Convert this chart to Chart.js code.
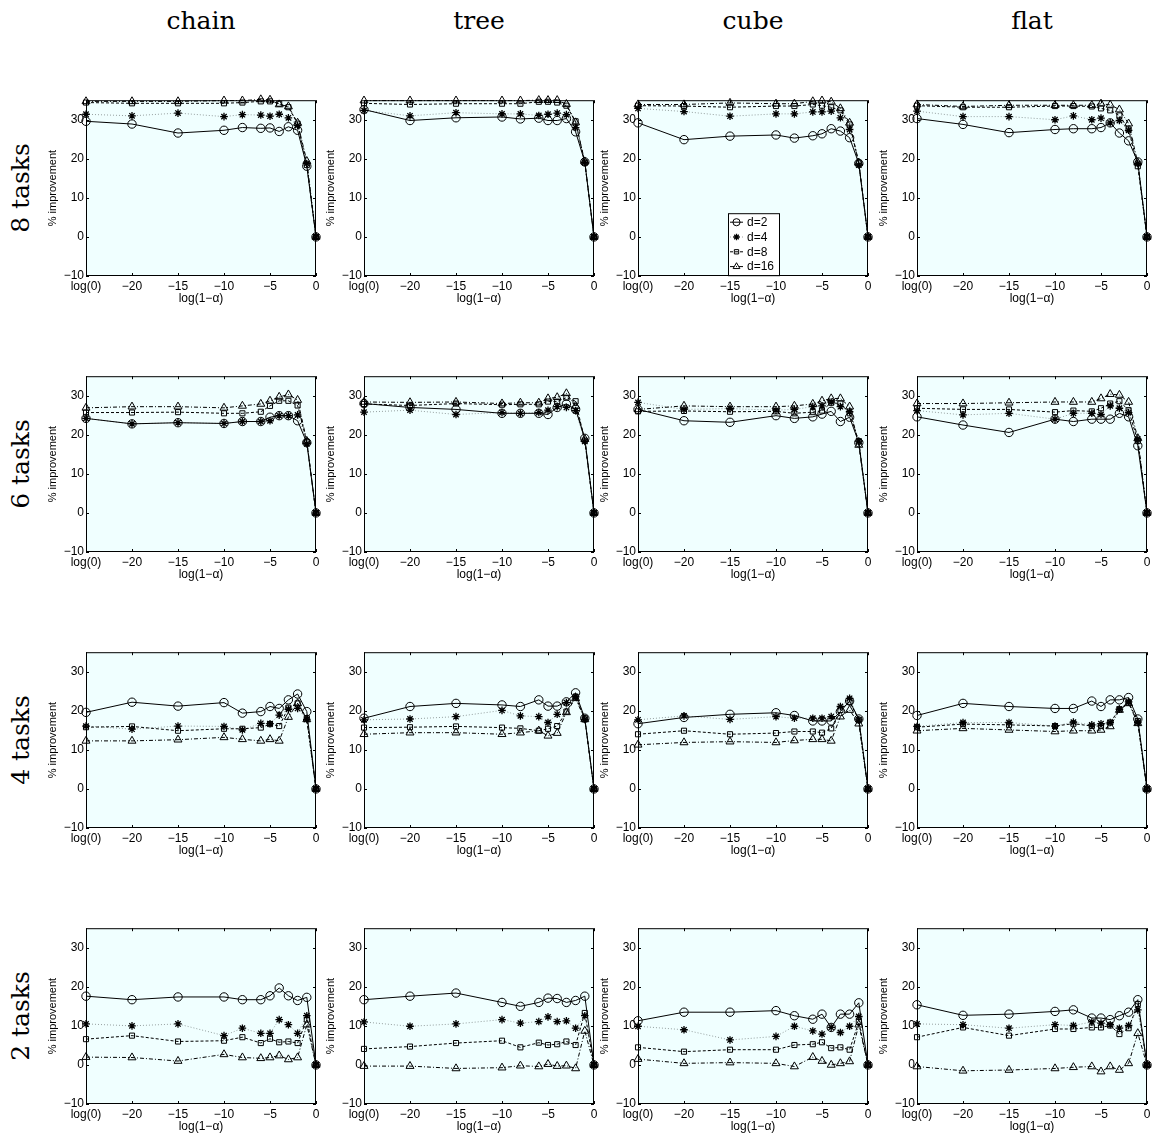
<!DOCTYPE html>
<html>
<head>
<meta charset="utf-8">
<script src="https://cdn.jsdelivr.net/npm/chart.js@4.4.1/dist/chart.umd.min.js"></script>
<style>
  body { margin: 0; background: #fff; width: 1152px; height: 1135px; position: relative; overflow: hidden; }
  .coltitle { position: absolute; top: 6px; width: 230px; line-height: 30px; text-align: center; font: 25px "DejaVu Serif", serif; color: #000; }
  .rowtitle { position: absolute; width: 200px; height: 30px; line-height: 30px; text-align: center; font: 25px "DejaVu Serif", serif; color: #000; transform: rotate(-90deg); }
  canvas { position: absolute; }
</style>
</head>
<body>
<script>
// x positions: log(0) is drawn at -25
const xValues = [-25, -20, -15, -10, -8, -6, -5, -4, -3, -2, -1, 0];
const xTicks = [-25, -20, -15, -10, -5, 0];
const yTicks = [-10, 0, 10, 20, 30];
const topologies = ['chain', 'tree', 'cube', 'flat'];
const taskCounts = [8, 6, 4, 2];
const seriesLabels = ['d=2', 'd=4', 'd=8', 'd=16'];

// each panel: [d=2, d=4, d=8, d=16]
const chain8 = [
  [29.6, 28.9, 26.6, 27.3, 28.0, 27.8, 27.9, 27.0, 28.2, 27.3, 18.1, 0],
  [31.4, 31.0, 31.7, 30.8, 31.3, 31.2, 30.9, 31.4, 30.5, 28.5, 18.8, 0],
  [34.4, 34.2, 34.2, 34.2, 34.4, 34.7, 34.7, 34.1, 33.2, 29.0, 18.4, 0],
  [34.7, 34.7, 34.7, 34.9, 34.9, 35.2, 35.1, 33.9, 33.4, 29.2, 19.4, 0]
];
const tree8 = [
  [32.6, 29.8, 30.5, 30.7, 30.2, 30.4, 29.8, 29.8, 30.3, 26.9, 19.2, 0],
  [32.4, 31.0, 31.8, 31.5, 31.5, 31.1, 31.4, 31.7, 31.3, 28.0, 19.1, 0],
  [34.2, 33.9, 34.1, 34.1, 34.1, 34.6, 34.6, 34.4, 33.6, 29.6, 19.0, 0],
  [34.9, 34.9, 34.9, 34.9, 34.9, 35.0, 35.0, 35.0, 34.0, 29.3, 19.3, 0]
];
const cube8 = [
  [29.2, 24.9, 25.8, 26.1, 25.3, 25.9, 26.4, 27.7, 27.1, 25.4, 18.8, 0],
  [32.9, 32.1, 30.9, 31.5, 31.5, 32.0, 32.0, 32.2, 30.5, 27.5, 18.4, 0],
  [33.6, 33.5, 33.2, 33.5, 33.5, 33.9, 33.6, 33.2, 32.4, 28.8, 19.0, 0],
  [33.9, 33.9, 34.3, 34.1, 34.1, 34.7, 34.9, 34.6, 32.9, 29.2, 19.0, 0]
];
const flat8 = [
  [30.3, 28.8, 26.7, 27.5, 27.7, 27.7, 28.0, 29.2, 26.6, 24.6, 19.2, 0],
  [32.2, 30.8, 30.8, 30.0, 31.0, 30.0, 30.4, 29.2, 29.8, 27.3, 18.8, 0],
  [33.6, 33.2, 33.2, 33.5, 33.5, 33.4, 32.9, 32.4, 31.1, 27.5, 18.1, 0],
  [33.9, 33.4, 33.7, 33.7, 33.7, 33.7, 34.1, 33.8, 32.6, 29.0, 19.0, 0]
];
const chain6 = [
  [24.2, 22.8, 23.1, 22.9, 23.4, 23.4, 24.5, 24.9, 24.9, 23.6, 18.0, 0],
  [24.2, 22.8, 23.1, 22.9, 23.4, 23.4, 23.6, 24.9, 24.9, 25.1, 17.7, 0],
  [25.7, 25.7, 25.8, 25.5, 25.5, 25.9, 27.4, 28.7, 28.7, 27.5, 18.2, 0],
  [26.9, 27.2, 27.2, 26.9, 27.4, 27.9, 28.7, 29.7, 30.3, 28.9, 18.4, 0]
];
const tree6 = [
  [28.0, 27.0, 26.5, 25.5, 25.5, 25.5, 25.2, 27.0, 27.9, 26.5, 19.1, 0],
  [25.8, 26.3, 25.2, 25.7, 25.5, 25.7, 26.3, 27.2, 27.0, 26.2, 18.3, 0],
  [27.9, 27.5, 28.0, 27.7, 27.8, 27.8, 28.5, 28.5, 29.5, 28.6, 18.5, 0],
  [28.4, 28.3, 28.4, 28.0, 28.2, 28.2, 29.3, 29.6, 30.6, 27.4, 18.9, 0]
];
const cube6 = [
  [26.5, 23.6, 23.2, 24.9, 24.2, 24.6, 25.3, 26.0, 23.4, 24.5, 18.0, 0],
  [28.3, 26.5, 26.7, 26.3, 26.5, 27.2, 27.4, 28.4, 27.2, 25.9, 18.4, 0],
  [26.0, 26.1, 25.9, 26.0, 25.5, 25.8, 26.2, 28.2, 28.0, 25.5, 18.3, 0],
  [26.5, 27.4, 27.2, 27.2, 27.4, 27.9, 28.7, 29.3, 29.3, 27.2, 17.4, 0]
];
const flat6 = [
  [24.6, 22.5, 20.6, 24.0, 23.4, 24.0, 24.0, 24.0, 25.5, 24.6, 17.2, 0],
  [26.2, 25.1, 25.5, 24.0, 25.5, 25.5, 25.2, 27.4, 26.8, 25.7, 18.9, 0],
  [26.8, 26.5, 26.5, 25.8, 26.2, 26.0, 26.8, 28.0, 28.6, 26.3, 18.4, 0],
  [28.0, 28.0, 28.2, 28.4, 28.4, 28.4, 29.3, 30.4, 30.2, 28.4, 19.1, 0]
];
const chain4 = [
  [19.6, 22.2, 21.2, 22.1, 19.4, 19.8, 21.1, 20.6, 22.8, 24.3, 19.8, 0],
  [16.1, 15.3, 16.1, 16.0, 15.1, 16.8, 16.7, 18.9, 20.4, 20.6, 17.8, 0],
  [15.8, 16.0, 14.9, 15.4, 15.4, 15.7, 16.6, 16.1, 20.8, 21.9, 18.1, 0],
  [12.3, 12.3, 12.6, 13.2, 12.7, 12.3, 12.7, 12.3, 18.4, 21.9, 17.8, 0]
];
const tree4 = [
  [18.1, 21.1, 21.9, 21.5, 21.1, 22.8, 21.2, 21.2, 22.3, 24.6, 18.1, 0],
  [17.7, 17.9, 18.5, 20.1, 18.7, 18.5, 17.0, 19.1, 22.1, 23.6, 17.8, 0],
  [15.7, 15.8, 16.0, 15.7, 15.5, 14.9, 15.4, 16.1, 19.8, 23.6, 18.1, 0],
  [14.0, 14.4, 14.4, 14.0, 14.4, 14.9, 13.6, 14.3, 19.6, 23.2, 17.8, 0]
];
const cube4 = [
  [16.7, 18.3, 19.1, 19.5, 18.8, 17.4, 17.4, 17.4, 19.8, 22.5, 17.9, 0],
  [17.7, 18.7, 17.8, 18.5, 18.1, 18.1, 18.1, 18.5, 21.1, 23.2, 17.7, 0],
  [14.0, 14.9, 14.0, 14.3, 14.7, 14.7, 14.4, 15.5, 20.2, 22.3, 17.7, 0],
  [11.3, 11.9, 12.1, 11.9, 12.4, 12.7, 12.7, 12.3, 18.5, 20.2, 16.7, 0]
];
const flat4 = [
  [18.8, 21.9, 21.1, 20.6, 20.6, 22.5, 21.1, 22.8, 22.8, 23.4, 17.9, 0],
  [16.0, 17.0, 17.0, 16.1, 17.1, 16.4, 16.7, 17.0, 20.4, 22.3, 17.0, 0],
  [15.8, 16.6, 16.4, 16.1, 16.7, 16.1, 16.1, 17.0, 20.4, 22.1, 17.4, 0],
  [14.9, 15.5, 15.1, 14.7, 14.9, 14.9, 15.1, 16.0, 20.2, 21.9, 16.8, 0]
];
const chain2 = [
  [17.6, 16.7, 17.4, 17.4, 16.7, 16.7, 17.7, 19.7, 17.7, 16.5, 17.3, 0],
  [10.5, 10.0, 10.5, 7.5, 9.4, 8.1, 8.1, 11.6, 10.3, 8.1, 12.6, 0],
  [6.6, 7.5, 6.0, 6.2, 7.1, 5.6, 6.7, 5.8, 6.0, 5.6, 11.6, 0],
  [2.0, 1.9, 1.0, 2.7, 1.9, 1.7, 1.9, 2.4, 1.4, 1.9, 10.3, 0]
];
const tree2 = [
  [16.7, 17.6, 18.4, 16.0, 15.0, 16.0, 17.1, 17.0, 16.0, 16.5, 17.6, 0],
  [11.0, 9.9, 10.5, 11.6, 10.7, 11.1, 12.3, 11.1, 11.3, 9.4, 12.6, 0],
  [4.1, 4.7, 5.6, 6.2, 4.5, 5.7, 5.1, 5.3, 6.0, 5.1, 13.3, 0],
  [-0.3, -0.3, -0.9, -0.7, -0.2, -0.4, 0.2, -0.3, -0.2, -0.9, 8.7, 0]
];
const cube2 = [
  [11.3, 13.5, 13.5, 13.9, 12.6, 11.7, 13.0, 9.6, 13.0, 13.0, 15.9, 0],
  [9.9, 9.0, 6.4, 7.3, 9.9, 8.7, 7.9, 9.6, 8.3, 9.9, 12.4, 0],
  [4.5, 3.4, 3.9, 3.9, 5.1, 5.3, 5.8, 4.3, 4.5, 3.9, 11.0, 0],
  [1.5, 0.4, 0.6, 0.4, -0.4, 2.0, 1.0, 0.0, 0.4, 0.9, 10.3, 0]
];
const flat2 = [
  [15.4, 12.7, 13.0, 13.7, 14.1, 12.0, 12.0, 11.6, 12.6, 13.5, 16.7, 0],
  [10.5, 10.3, 9.4, 10.3, 10.1, 11.0, 10.7, 10.3, 9.4, 10.1, 14.1, 0],
  [7.1, 9.6, 7.5, 9.2, 9.2, 9.6, 9.6, 10.1, 7.9, 9.4, 15.6, 0],
  [-0.4, -1.5, -1.3, -0.9, -0.6, -0.4, -1.7, -0.4, -1.3, 0.4, 8.1, 0]
];

const panels = {
  chain8, tree8, cube8, flat8,
  chain6, tree6, cube6, flat6,
  chain4, tree4, cube4, flat4,
  chain2, tree2, cube2, flat2
};

// layout of the 4x4 grid (plot area corners)
const plotLefts = [86, 364, 638, 917];
const plotTops = [99, 375, 651, 927];
const plotW = 230, plotH = 177;
const padL = 44, padT = 8, padR = 10, padB = 30;

const lineStyles = [
  { color: '#000', dash: [], point: 'circle', radius: 4.2, width: 1 },
  { color: 'rgba(0,0,0,0.38)', dash: [1, 2], point: 'star', radius: 3.8, width: 1 },
  { color: '#000', dash: [3, 2], point: 'rect', radius: 3.6, width: 1 },
  { color: '#000', dash: [4, 2, 1, 2], point: 'triangle', radius: 4.6, width: 1 }
];

const tickFont = { family: 'Liberation Sans, Arial, sans-serif', size: 12 };
const minus = v => (v < 0 ? '\u2212' + Math.abs(v) : String(v));

const framePlugin = {
  id: 'frame',
  beforeDatasetsDraw(chart) {
    const { ctx, chartArea: a } = chart;
    ctx.save();
    ctx.fillStyle = '#f0ffff';
    ctx.fillRect(a.left, a.top, a.right - a.left, a.bottom - a.top);
    ctx.restore();
  },
  afterDraw(chart) {
    const { ctx, chartArea: a, scales } = chart;
    ctx.save();
    ctx.strokeStyle = '#000';
    ctx.lineWidth = 1;
    ctx.setLineDash([]);
    ctx.strokeRect(a.left + 0.5, a.top + 0.5, a.right - a.left - 1, a.bottom - a.top - 1);
    ctx.beginPath();
    xTicks.forEach(v => {
      const px = Math.round(scales.x.getPixelForValue(v)) + 0.5;
      ctx.moveTo(px, a.bottom); ctx.lineTo(px, a.bottom - 3);
      ctx.moveTo(px, a.top); ctx.lineTo(px, a.top + 3);
    });
    yTicks.forEach(v => {
      const py = Math.round(scales.y.getPixelForValue(v)) + 0.5;
      ctx.moveTo(a.left, py); ctx.lineTo(a.left + 3, py);
      ctx.moveTo(a.right, py); ctx.lineTo(a.right - 3, py);
    });
    ctx.stroke();
    ctx.restore();
  }
};

// legend box drawn inside the cube / 8 tasks panel
const legendPlugin = {
  id: 'boxLegend',
  afterDraw(chart) {
    const { ctx, chartArea: a } = chart;
    const left = a.left + 90, top = a.top + 113, w = 51, h = 62;
    ctx.save();
    ctx.fillStyle = '#fff';
    ctx.fillRect(left, top, w, h);
    ctx.strokeStyle = '#000';
    ctx.lineWidth = 1;
    ctx.strokeRect(left + 0.5, top + 0.5, w, h);
    chart.data.datasets.forEach((ds, i) => {
      const yy = top + 9 + i * 14.8;
      ctx.beginPath();
      ctx.setLineDash(ds.borderDash);
      ctx.strokeStyle = ds.borderColor;
      ctx.moveTo(left + 2, yy); ctx.lineTo(left + 15, yy);
      ctx.stroke();
      ctx.setLineDash([]);
      ctx.strokeStyle = '#000';
      ctx.fillStyle = 'rgba(0,0,0,0)';
      ctx.lineWidth = ds.pointBorderWidth;
      Chart.helpers.drawPoint(ctx, { pointStyle: ds.pointStyle, radius: ds.pointRadius * 0.85, borderWidth: ds.pointBorderWidth, rotation: 0 }, left + 8.5, yy);
      ctx.lineWidth = 1;
      ctx.fillStyle = '#000';
      ctx.font = '12px "Liberation Sans", Arial, sans-serif';
      ctx.textBaseline = 'middle';
      ctx.fillText(ds.label, left + 19, yy + 0.5);
    });
    ctx.restore();
  }
};

function addText(cls, text, left, top) {
  const d = document.createElement('div');
  d.className = cls;
  d.textContent = text;
  d.style.left = left + 'px';
  d.style.top = top + 'px';
  document.body.appendChild(d);
}

topologies.forEach((t, c) => addText('coltitle', t, plotLefts[c], 6));
taskCounts.forEach((n, r) => addText('rowtitle', n + ' tasks', 21 - 100, plotTops[r] + plotH / 2 - 15));

taskCounts.forEach((n, r) => {
  topologies.forEach((t, c) => {
    const series = panels[t + n];
    const canvas = document.createElement('canvas');
    canvas.width = padL + plotW + padR;
    canvas.height = padT + plotH + padB;
    canvas.style.left = (plotLefts[c] - padL) + 'px';
    canvas.style.top = (plotTops[r] - padT) + 'px';
    document.body.appendChild(canvas);

    const datasets = series.map((vals, i) => ({
      label: seriesLabels[i],
      data: vals.map((v, k) => ({ x: xValues[k], y: v })),
      borderColor: lineStyles[i].color,
      borderWidth: lineStyles[i].width,
      borderDash: lineStyles[i].dash,
      pointStyle: lineStyles[i].point,
      pointRadius: lineStyles[i].radius,
      pointBorderColor: '#000',
      pointBackgroundColor: 'rgba(0,0,0,0)',
      pointBorderWidth: i === 1 ? 1.3 : 1,
      tension: 0,
      clip: 10
    }));

    new Chart(canvas, {
      type: 'line',
      data: { datasets },
      options: {
        responsive: false,
        animation: false,
        events: [],
        layout: { padding: { left: 4, top: padT, right: padR, bottom: 0 } },
        plugins: { legend: { display: false }, tooltip: { enabled: false } },
        scales: {
          x: {
            type: 'linear', min: -25, max: 0,
            afterBuildTicks: s => { s.ticks = xTicks.map(v => ({ value: v })); },
            afterFit: s => { s.height = padB; },
            grid: { display: false, drawTicks: false },
            border: { display: false },
            ticks: {
              padding: 3, color: '#000', font: tickFont, maxRotation: 0, autoSkip: false,
              callback: v => (v === -25 ? 'log(0)' : minus(v))
            },
            title: { display: true, text: 'log(1\u2212\u03b1)', color: '#000', font: tickFont, padding: 0 }
          },
          y: {
            type: 'linear', min: -10, max: 35,
            afterBuildTicks: s => { s.ticks = yTicks.map(v => ({ value: v })); },
            afterFit: s => { s.width = padL - 4; },
            grid: { display: false, drawTicks: false },
            border: { display: false },
            ticks: { padding: 2, color: '#000', font: tickFont, callback: v => minus(v) },
            title: { display: true, text: '% improvement', color: '#000', font: { family: tickFont.family, size: 11 }, padding: 0 }
          }
        }
      },
      plugins: (t === 'cube' && n === 8) ? [framePlugin, legendPlugin] : [framePlugin]
    });
  });
});
</script>
</body>
</html>
